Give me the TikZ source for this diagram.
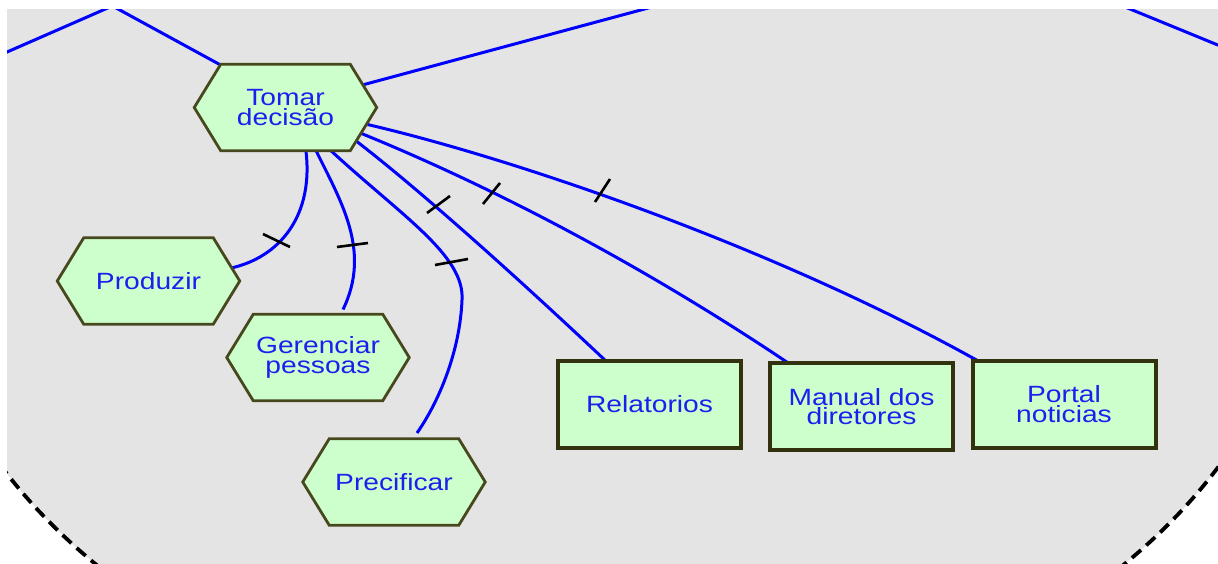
\documentclass[tikz,border=0pt]{standalone}
\usepackage{fontspec}
\setmainfont{Liberation Sans}[FakeStretch=1.2]
\usetikzlibrary{shapes.symbols,calc,backgrounds}
\definecolor{bggray}{RGB}{228,228,228}
\definecolor{nodefill}{RGB}{204,255,204}
\definecolor{hexborder}{RGB}{72,72,30}
\definecolor{rectborder}{RGB}{50,50,15}
\definecolor{txtblue}{RGB}{30,30,238}
\definecolor{linkblue}{RGB}{0,0,255}
\newcommand{\nodefont}{\fontsize{23.5pt}{19.5pt}\selectfont}
\tikzset{
  hexnode/.style={signal, signal to=east and west, signal pointer angle=117,
    draw=hexborder, line width=2.8pt, fill=nodefill,
    minimum width=182.5pt, minimum height=86.5pt, inner sep=0pt,
    align=center, text=txtblue, font=\nodefont},
  rectnode/.style={rectangle, draw=rectborder, line width=4pt, fill=nodefill,
    minimum width=183pt, minimum height=87pt, inner sep=0pt,
    align=center, text=txtblue, font=\nodefont},
  link/.style={draw=linkblue, line width=3pt},
  tickmark/.style={draw=black, line width=2.6pt},
  border/.style={draw=black, line width=3.8pt, dash pattern=on 12pt off 7pt}
}
\begin{document}
\begin{tikzpicture}[x=1pt,y=-1pt]
\useasboundingbox (0,0) rectangle (1218,564);
\begin{scope}[on background layer]
  \clip (7,10) rectangle (1218,564);
  \fill[bggray] (610,204) ellipse [x radius=700pt, y radius=531pt];
  \draw[border] (610,204) ellipse [x radius=700pt, y radius=531pt];
\end{scope}

\node[hexnode] (tomar) at (285.5,107.5) {Tomar\\decisão};
\node[hexnode] (produzir) at (148.5,281) {Produzir};
\node[hexnode] (gerenciar) at (318,357.5) {Gerenciar\\pessoas};
\node[hexnode] (precificar) at (394,482) {Precificar};
\node[rectnode] (relatorios) at (649.5,404.5) {Relatorios};
\node[rectnode] (manual) at (861.5,406.5) {Manual dos\\diretores};
\node[rectnode] (portal) at (1064,404) {Portal\\noticias};

\coordinate (upA) at (101.5,0);
\coordinate (upB) at (678,0);
\coordinate (freeA1) at (0,55.1);
\coordinate (freeA2) at (126,0);
\coordinate (freeB1) at (1108,0);
\coordinate (freeB2) at (1230,50);

\begin{scope}[on background layer]
  \clip (7,10) rectangle (1218,564);
  \draw[link] (freeA1) -- (freeA2);
  \draw[link] (freeB1) -- (freeB2);
  \draw[link] ($(tomar.center)+(-64,-42)$) -- (upA);
  \draw[link] ($(tomar.center)+(75,-22)$) -- (upB);
  \draw[link] ($(tomar.center)+(20,40)$) .. controls (315,215) and (280,258) .. ($(produzir.center)+(80.5,-12.5)$);
  \draw[link] ($(tomar.center)+(29,40)$) .. controls (340,200) and (372,250) .. ($(gerenciar.center)+(25,-48)$);
  \draw[link] ($(tomar.center)+(42,40)$) .. controls (400,215) and (465,255) .. (462,300) .. controls (460,350) and (440,400) .. ($(precificar.center)+(23,-49)$);
  \draw[link] ($(tomar.center)+(70,33)$) .. controls (420,190) and (520,280) .. ($(relatorios.center)+(-42,-42)$);
  \draw[link] ($(tomar.center)+(76,26)$) .. controls (500,190) and (650,270) .. ($(manual.center)+(-71,-42)$);
  \draw[link] ($(tomar.center)+(82,17)$) .. controls (520,160) and (780,250) .. ($(portal.center)+(-84,-42)$);
\end{scope}

\draw[tickmark] (263,234) -- (290,247);
\draw[tickmark] (337,247) -- (368,243);
\draw[tickmark] (435,265) -- (468,259);
\draw[tickmark] (427,213) -- (450,196);
\draw[tickmark] (483,204) -- (500,183);
\draw[tickmark] (595,202) -- (610,179);
\end{tikzpicture}
\end{document}
